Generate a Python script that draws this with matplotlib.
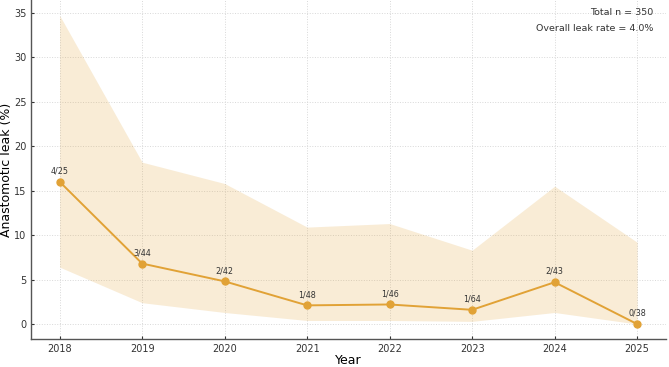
import matplotlib
matplotlib.use("Agg")
import matplotlib.pyplot as plt

years = [2018, 2019, 2020, 2021, 2022, 2023, 2024, 2025]
leaks = [4, 3, 2, 1, 1, 1, 2, 0]
cases = [25, 44, 42, 48, 46, 64, 43, 38]
rate = [16.0, 6.8, 4.8, 2.1, 2.2, 1.6, 4.7, 0.0]
ci_low = [6.4, 2.4, 1.3, 0.4, 0.4, 0.3, 1.3, 0.0]
ci_high = [34.7, 18.2, 15.8, 10.9, 11.3, 8.3, 15.5, 9.2]

color = "#E1A236"

fig, ax = plt.subplots(figsize=(6.69, 3.67), dpi=100)
fig.subplots_adjust(left=0.046, right=0.9955, bottom=0.075, top=1.0)

ax.fill_between(years, ci_low, ci_high, color=color, alpha=0.2, linewidth=0)
ax.plot(years, rate, color=color, marker="o", markersize=5, linewidth=1.4)

for x, y, k, n in zip(years, rate, leaks, cases):
    ax.annotate(f"{k}/{n}", (x, y), xytext=(0, 4.5), textcoords="offset points",
                ha="center", va="bottom", fontsize=5.8, color="#333333")

ax.text(0.98, 0.975, "Total n = 350", transform=ax.transAxes, ha="right", va="top",
        fontsize=6.8, color="#333333")
ax.text(0.98, 0.93, "Overall leak rate = 4.0%", transform=ax.transAxes, ha="right", va="top",
        fontsize=6.8, color="#333333")

ax.set_xticks(years)
ax.set_yticks(range(0, 36, 5))
ax.set_xlabel("Year", fontsize=9, labelpad=0)
ax.set_ylabel("Anastomotic leak (%)", fontsize=9, labelpad=1)
ax.tick_params(labelsize=7, colors="#333333", direction="in", length=2.5, pad=3)
ax.grid(True, linestyle=":", color="#d8d8d8", linewidth=0.7)
ax.set_axisbelow(True)
for s in ["top", "right"]:
    ax.spines[s].set_visible(False)
for s in ["left", "bottom"]:
    ax.spines[s].set_color("#555555")
    ax.spines[s].set_linewidth(1.0)

fig.savefig("out.png")
